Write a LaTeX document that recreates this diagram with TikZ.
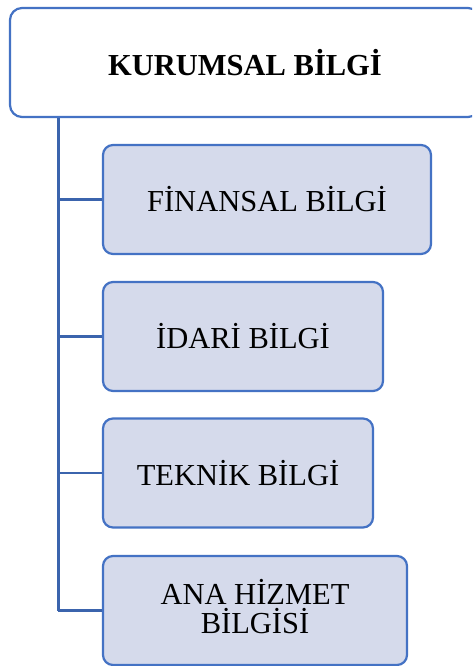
\documentclass[tikz,border=0pt]{standalone}
\usepackage{fontspec}
\setmainfont{Liberation Serif}
\definecolor{edgeblue}{HTML}{4472C4}
\definecolor{linkblue}{HTML}{3B64AD}
\definecolor{boxfill}{HTML}{D5DAEB}
\begin{document}
\begin{tikzpicture}[x=1pt,y=-1pt,
  topbox/.style={draw=edgeblue, line width=2.2pt, fill=white, rounded corners=12pt,
    minimum width=470pt, minimum height=109pt, inner sep=0pt,
    font=\fontsize{30.5}{34}\selectfont\bfseries},
  itembox/.style={draw=edgeblue, line width=2.2pt, fill=boxfill, rounded corners=10pt,
    minimum height=109pt, inner sep=0pt, align=center,
    font=\fontsize{30.5}{29}\selectfont},
  trunkline/.style={draw=linkblue, line width=3pt},
  branch/.style={draw=linkblue, line width=2.3pt}]
\useasboundingbox (0,0) rectangle (472,666);
\clip (0,0) rectangle (472,666);
\fill[white] (0,0) rectangle (472,666);

% connectors first, boxes drawn on top of them
\coordinate (trunk) at (58,117);
\coordinate (trunkend) at (58,610.5);
\draw[trunkline] (trunk) -- (trunkend);

\node[topbox] (top) at (245,62.5) {KURUMSAL BİLGİ};
\node[itembox, minimum width=328pt] (fin) at (267,199.5) {FİNANSAL BİLGİ};
\node[itembox, minimum width=280pt] (idari) at (243,336.5) {İDARİ BİLGİ};
\node[itembox, minimum width=270pt] (teknik) at (238,473) {TEKNİK BİLGİ};
\node[itembox, minimum width=304pt, text depth=8pt] (ana) at (255,610.5) {ANA HİZMET\\BİLGİSİ};

\draw[branch] (fin.west) -- (fin.west -| trunk);
\draw[branch] (idari.west) -- (idari.west -| trunk);
\draw[branch] (teknik.west) -- (teknik.west -| trunk);
\draw[branch] (ana.west) -- (trunkend);
\end{tikzpicture}
\end{document}
